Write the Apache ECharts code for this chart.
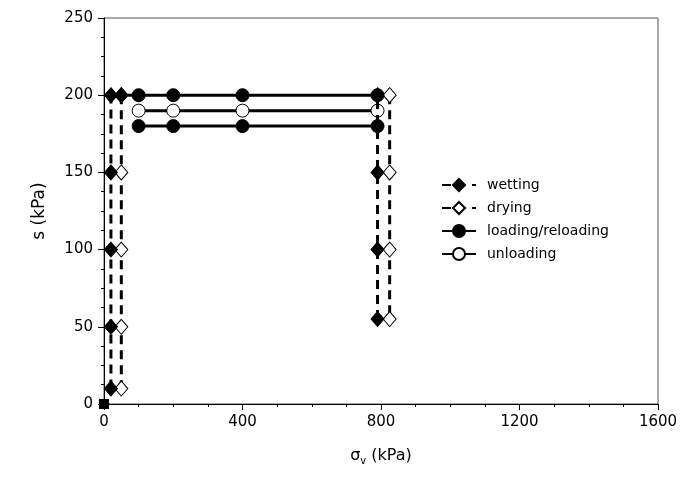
<!DOCTYPE html>
<html>
<head>
<meta charset="utf-8">
<script src="https://cdn.jsdelivr.net/npm/echarts@6/dist/echarts.min.js"></script>
<style>html,body{margin:0;padding:0;background:#fff;}#c{width:681px;height:496px;}</style>
</head>
<body>
<div id="c"></div>
<script>
// Data (sigma_v in kPa, s in kPa)
const origin = [[0, 0]];
const wettingLeft = [[20, 10], [20, 50], [20, 100], [20, 150], [20, 200], [50, 200]];
const wettingRight = [[790, 55], [790, 100], [790, 150], [790, 200]];
const dryingLeft = [[50, 200], [50, 150], [50, 100], [50, 50], [50, 10]];
const dryingRight = [[825, 200], [825, 150], [825, 100], [825, 55]];
const loading1 = [[50, 200], [100, 200], [200, 200], [400, 200], [790, 200]];
const unloading = [[790, 190], [400, 190], [200, 190], [100, 190]];
const reloading = [[100, 180], [200, 180], [400, 180], [790, 180]];
const xTicks = [0, 400, 800, 1200, 1600];
const yTicks = [0, 50, 100, 150, 200, 250];

const FONT = 'DejaVu Sans';
const dashed = { color: '#000', width: 3, type: [9, 6] };
const solid = { color: '#000', width: 3, type: 'solid' };
const filledDiamond = { color: '#000', borderColor: '#000', borderWidth: 1 };
const openDiamond = { color: '#fff', borderColor: '#000', borderWidth: 1 };

const chart = echarts.init(document.getElementById('c'), null, { renderer: 'canvas' });
chart.setOption({
  animation: false,
  backgroundColor: '#fff',
  grid: { left: 104, right: 23, top: 18, bottom: 92, show: true, borderColor: '#555', borderWidth: 1 },
  legend: {
    orient: 'vertical', left: 436, top: 173,
    itemWidth: 34, itemHeight: 15, itemGap: 9,
    data: ['wetting', 'drying', 'loading/reloading', 'unloading'],
    textStyle: { fontFamily: FONT, fontSize: 14, color: '#000', padding: [0, 0, 0, 6] }
  },
  xAxis: {
    type: 'value', min: 0, max: 1600, interval: 400,
    name: '{s|σ}{sub|v}{s| (kPa)}', nameLocation: 'middle', nameGap: 42,
    nameTextStyle: { fontFamily: FONT, fontSize: 16, color: '#000',
      rich: { s: { fontFamily: FONT, fontSize: 16, color: '#000' }, sub: { fontFamily: FONT, fontSize: 10, color: '#000', verticalAlign: 'bottom', padding: [10, 0, 0, 0] } } },
    axisLine: { show: true, lineStyle: { color: '#000', width: 1 } },
    axisTick: { show: true, inside: false, length: 6, lineStyle: { color: '#000' } },
    minorTick: { show: true, splitNumber: 4, length: 3, lineStyle: { color: '#000' } },
    splitLine: { show: false },
    axisLabel: { fontFamily: FONT, fontSize: 15, color: '#000', margin: 11,
      formatter: v => xTicks.includes(v) ? String(v) : '' }
  },
  yAxis: {
    type: 'value', min: 0, max: 250, interval: 50,
    name: 's (kPa)', nameLocation: 'middle', nameGap: 56,
    nameTextStyle: { fontFamily: FONT, fontSize: 17, color: '#000' },
    axisLine: { show: true, lineStyle: { color: '#000', width: 1 } },
    axisTick: { show: true, inside: false, length: 6, lineStyle: { color: '#000' } },
    minorTick: { show: true, splitNumber: 4, length: 3, lineStyle: { color: '#000' } },
    splitLine: { show: false },
    axisLabel: { fontFamily: FONT, fontSize: 15, color: '#000', margin: 11,
      formatter: v => yTicks.includes(v) ? String(v) : '' }
  },
  series: [
    { name: 'origin', type: 'scatter', data: origin, symbol: 'rect', symbolSize: 10,
      itemStyle: { color: '#000', opacity: 1 }, clip: false, z: 10 },
    { name: 'loading/reloading', type: 'line', z: 2,
      data: loading1.map((p, i) => i === 0 ? { value: p, symbol: 'none' } : p),
      symbol: 'circle', symbolSize: 13, showAllSymbol: true,
      lineStyle: solid, itemStyle: { color: '#000', borderColor: '#000', borderWidth: 1 } },
    { name: 'unloading', type: 'line', z: 2, data: unloading,
      symbol: 'circle', symbolSize: 13, showAllSymbol: true,
      lineStyle: solid, itemStyle: { color: '#fff', borderColor: '#000', borderWidth: 1 } },
    { name: 'loading/reloading', type: 'line', z: 2, data: reloading,
      symbol: 'circle', symbolSize: 13, showAllSymbol: true,
      lineStyle: solid, itemStyle: { color: '#000', borderColor: '#000', borderWidth: 1 } },
    { name: 'drying', type: 'line', z: 3, data: dryingLeft,
      symbol: 'diamond', symbolSize: [13, 15], showAllSymbol: true,
      lineStyle: dashed, itemStyle: openDiamond },
    { name: 'drying', type: 'line', z: 3, data: dryingRight,
      symbol: 'diamond', symbolSize: [13, 15], showAllSymbol: true,
      lineStyle: dashed, itemStyle: openDiamond },
    { name: 'wetting', type: 'line', z: 4, data: wettingLeft,
      symbol: 'diamond', symbolSize: [13, 15], showAllSymbol: true,
      lineStyle: dashed, itemStyle: filledDiamond },
    { name: 'wetting', type: 'line', z: 4, data: wettingRight,
      symbol: 'diamond', symbolSize: [13, 15], showAllSymbol: true,
      lineStyle: dashed, itemStyle: filledDiamond }
  ]
});
</script>
</body>
</html>
